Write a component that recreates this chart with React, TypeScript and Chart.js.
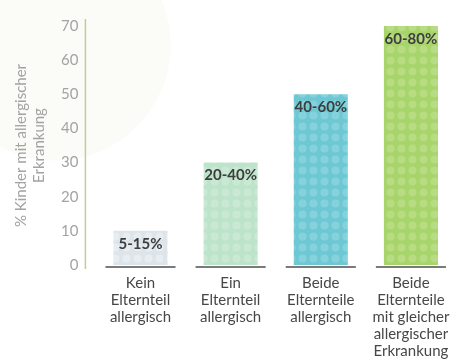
import React, { useEffect, useRef } from "react";
import { Chart, registerables } from "chart.js";

Chart.register(...registerables);

const categories: string[][] = [
  ["Kein", "Elternteil", "allergisch"],
  ["Ein", "Elternteil", "allergisch"],
  ["Beide", "Elternteile", "allergisch"],
  ["Beide", "Elternteile", "mit gleicher", "allergischer", "Erkrankung"],
];
const values: number[] = [10, 30, 50, 70];
const rangeLabels: string[] = ["5-15%", "20-40%", "40-60%", "60-80%"];
const barColors: string[] = ["#dde5eb", "#bde3ca", "#6dc8d4", "#a8d46c"];
const dotColors: string[] = ["#e7edf1", "#c9e9d4", "#86d2dc", "#b7dc82"];
const yTitle: string[] = ["% Kinder mit allergischer", "Erkrankung"];

const FONT = "Lato, 'Noto Sans', sans-serif";

function makePattern(bg: string, dot: string): CanvasPattern | string {
  const c = document.createElement("canvas");
  c.width = 11;
  c.height = 11;
  const ctx = c.getContext("2d");
  if (!ctx) return bg;
  ctx.fillStyle = bg;
  ctx.fillRect(0, 0, 11, 11);
  ctx.fillStyle = dot;
  ctx.beginPath();
  ctx.arc(5.5, 5.5, 4, 0, Math.PI * 2);
  ctx.fill();
  const p = ctx.createPattern(c, "repeat");
  return p || bg;
}

const decorPlugin = {
  id: "decor",
  afterDatasetsDraw(chart: any) {
    const { ctx, chartArea } = chart;
    const meta = chart.getDatasetMeta(0);
    ctx.save();
    // y axis line
    ctx.strokeStyle = "#c9c99a";
    ctx.lineWidth = 1.5;
    ctx.beginPath();
    ctx.moveTo(chartArea.left - 10, chartArea.top - 7);
    ctx.lineTo(chartArea.left - 10, chartArea.bottom + 4);
    ctx.stroke();
    // baselines and labels
    meta.data.forEach((el: any, i: number) => {
      const w = el.width;
      ctx.strokeStyle = "#7a7a7a";
      ctx.lineWidth = 2;
      ctx.beginPath();
      ctx.moveTo(el.x - w / 2 - 8, el.base + 2);
      ctx.lineTo(el.x + w / 2 + 8, el.base + 2);
      ctx.stroke();
      ctx.fillStyle = "#3d3d3d";
      ctx.font = `bold 15px ${FONT}`;
      ctx.textAlign = "center";
      ctx.textBaseline = "middle";
      ctx.fillText(rangeLabels[i], el.x, el.y + 13);
    });
    ctx.restore();
  },
};

export default function App() {
  const ref = useRef<HTMLCanvasElement | null>(null);
  useEffect(() => {
    if (!ref.current) return;
    const chart = new Chart(ref.current, {
      type: "bar",
      data: {
        labels: categories,
        datasets: [
          {
            data: values,
            backgroundColor: barColors.map((c, i) => makePattern(c, dotColors[i])) as any,
            borderWidth: 0,
            barPercentage: 0.6,
            categoryPercentage: 1,
          },
        ],
      },
      options: {
        animation: false,
        responsive: false,
        maintainAspectRatio: false,
        layout: { padding: { top: 25, right: 5, left: 12, bottom: -8 } },
        plugins: {
          legend: { display: false },
          tooltip: { enabled: false },
        },
        scales: {
          x: {
            grid: { display: false, drawTicks: false },
            border: { display: false },
            ticks: {
              color: "#474747",
              font: { family: FONT, size: 15, lineHeight: 17 / 15 },
              padding: 10,
              maxRotation: 0,
              autoSkip: false,
            },
          },
          y: {
            min: 0,
            max: 70,
            grid: { display: false, drawTicks: false },
            border: { display: false },
            ticks: {
              stepSize: 10,
              color: "#a3a3a3",
              font: { family: FONT, size: 15 },
              padding: 17,
            },
            title: {
              display: true,
              text: yTitle,
              color: "#a3a3a3",
              font: { family: FONT, size: 15 },
              padding: { top: 0, bottom: -4 },
            },
          },
        },
      },
      plugins: [decorPlugin],
    });
    return () => chart.destroy();
  }, []);
  return (
    <div
      style={{
        position: "fixed",
        left: 0,
        top: 0,
        width: 461,
        height: 362,
        background:
          "radial-gradient(circle at 55px 45px, #fbfcf7 0, #fbfcf7 115px, #ffffff 116px)",
      }}
    >
      <canvas ref={ref} width={461} height={362} />
    </div>
  );
}
